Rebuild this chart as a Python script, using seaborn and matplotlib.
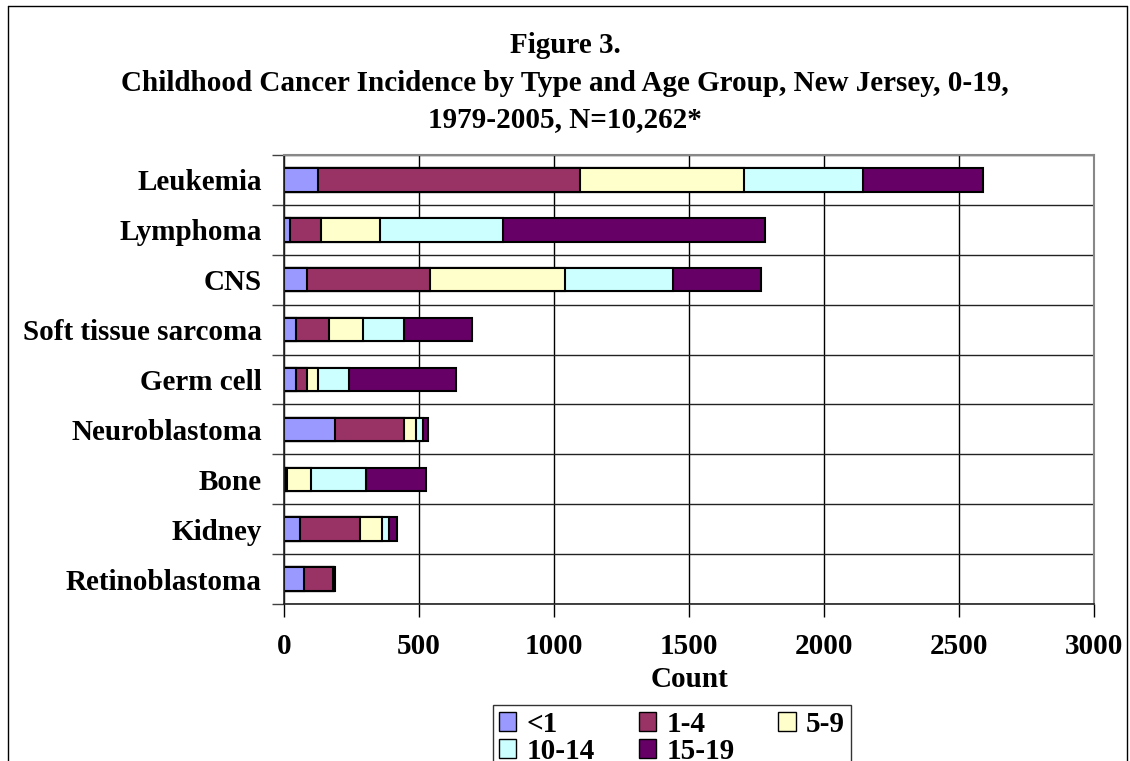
import numpy as np
import pandas as pd
import matplotlib
matplotlib.use("Agg")
import matplotlib.pyplot as plt
import seaborn as sns
from matplotlib.lines import Line2D
from matplotlib.patches import Patch

# datos
tipos = ["Leukemia", "Lymphoma", "CNS", "Soft tissue sarcoma", "Germ cell",
         "Neuroblastoma", "Bone", "Kidney", "Retinoblastoma"]
grupos = ["<1", "1-4", "5-9", "10-14", "15-19"]
menor_1 = [126, 23, 85, 44, 44, 188, 3, 58, 73]
edad_1_4 = [969, 115, 455, 123, 41, 256, 9, 224, 108]
edad_5_9 = [608, 218, 501, 126, 41, 46, 87, 81, 3]
edad_10_14 = [440, 454, 399, 151, 115, 26, 205, 27, 1]
edad_15_19 = [445, 970, 326, 252, 395, 18, 223, 29, 3]
colores = ["#9999FF", "#993366", "#FFFFCC", "#CCFFFF", "#660066"]

sns.set_style("white")
plt.rcParams['font.family'] = ['Liberation Serif', 'DejaVu Serif']
plt.rcParams['font.weight'] = 'bold'
for k in ['text.color', 'axes.labelcolor', 'xtick.color', 'ytick.color']:
    plt.rcParams[k] = 'black'

df = pd.DataFrame({"tipo": tipos, "<1": menor_1, "1-4": edad_1_4, "5-9": edad_5_9,
                   "10-14": edad_10_14, "15-19": edad_15_19})
acumulado = df[grupos].cumsum(axis=1)

fs = 21
fig = plt.figure(figsize=(11.3, 7.61), dpi=100)
ax = fig.add_axes([284 / 1130, 1 - 604 / 761, (1094 - 284) / 1130, (604 - 155) / 761])

# barras apiladas: se dibuja del total hacia atras
for g, c in reversed(list(zip(grupos, colores))):
    sns.barplot(x=acumulado[g], y=df["tipo"], orient="h", color=c, width=0.47,
                edgecolor="black", linewidth=1.5, ax=ax, saturation=1)

ax.set_xlim(0, 3000)
ax.set_ylim(8.5, -0.5)
ax.set_xticks(np.arange(0, 3001, 500))
ax.set_yticks(np.arange(len(tipos)))
ax.set_yticklabels(tipos)
ax.set_yticks(np.arange(-0.5, len(tipos), 1), minor=True)
ax.tick_params(axis="y", which="major", length=0, pad=16, labelsize=fs)
ax.tick_params(axis="y", which="minor", length=9, width=1, color="#404040", direction="out", left=True)
ax.tick_params(axis="x", which="major", length=9, width=1, direction="out", bottom=True,
               pad=12, labelsize=fs)
ax.grid(axis="x", which="major", color="black", linewidth=1)
ax.grid(axis="y", which="minor", color="#222222", linewidth=1)
ax.set_axisbelow(True)
for lado in ["left", "bottom"]:
    ax.spines[lado].set_color("#222222")
    ax.spines[lado].set_linewidth(1.2)
for lado in ["top", "right"]:
    ax.spines[lado].set_color("#888888")
    ax.spines[lado].set_linewidth(1.5)

ax.set_ylabel("")
ax.set_xlabel("Count", fontsize=fs, fontweight="bold", labelpad=4)

fig.text(0.5, 1 - 53 / 761, "Figure 3.", ha="center", va="baseline", fontsize=fs, fontweight="bold")
fig.text(0.5, 1 - 91 / 761, "Childhood Cancer Incidence by Type and Age Group, New Jersey, 0-19,",
         ha="center", va="baseline", fontsize=fs, fontweight="bold")
fig.text(0.5, 1 - 127 / 761, "1979-2005, N=10,262*", ha="center", va="baseline",
         fontsize=fs, fontweight="bold")

# leyenda en orden por filas
handles = [Patch(facecolor=c, edgecolor="black", linewidth=1) for c in colores]
orden = [0, 3, 1, 4, 2]
leg = fig.legend([handles[i] for i in orden], [grupos[i] for i in orden], ncol=3,
                 loc="upper left", bbox_to_anchor=(493 / 1130, 1 - 705 / 761),
                 frameon=True, fancybox=False, fontsize=fs, handlelength=0.6,
                 handleheight=0.6, handletextpad=0.35, columnspacing=1.5,
                 labelspacing=0.0, borderpad=0.2, borderaxespad=0)
leg.get_frame().set_edgecolor("black")
leg.get_frame().set_linewidth(1)

# marco exterior
fig.add_artist(Line2D([8 / 1130, 8 / 1130], [0, 1 - 6 / 761], color="black", linewidth=1))
fig.add_artist(Line2D([8 / 1130, 1127 / 1130], [1 - 6 / 761, 1 - 6 / 761], color="black", linewidth=1))
fig.add_artist(Line2D([1127 / 1130, 1127 / 1130], [0, 1 - 6 / 761], color="black", linewidth=1))

fig.savefig("out.png", dpi=100)
